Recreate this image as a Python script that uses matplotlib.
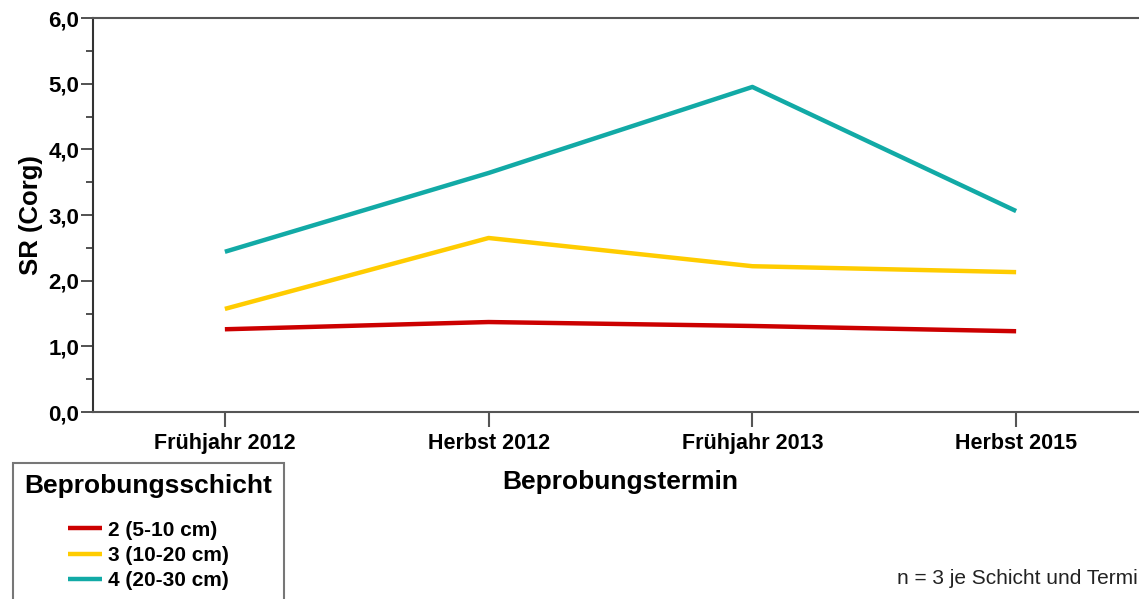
import matplotlib.pyplot as plt

plt.rcParams['font.family'] = ['Liberation Sans', 'DejaVu Sans']

termine = ['Frühjahr 2012', 'Herbst 2012', 'Frühjahr 2013', 'Herbst 2015']
schicht_2 = [1.26, 1.37, 1.31, 1.23]
schicht_3 = [1.57, 2.65, 2.22, 2.13]
schicht_4 = [2.44, 3.64, 4.95, 3.06]
labels = ['2 (5-10 cm)', '3 (10-20 cm)', '4 (20-30 cm)']
farben = ['#cc0000', '#ffcc00', '#12aaa6']

fig = plt.figure(figsize=(11.39, 5.99), dpi=100)
ax = fig.add_axes([93/1139, 187/599, 1055/1139, 394/599])

x = range(len(termine))
for werte, lab, col in zip([schicht_2, schicht_3, schicht_4], labels, farben):
    ax.plot(x, werte, color=col, lw=3.2, label=lab, solid_capstyle='butt')

ax.set_xlim(-0.5, 3.5)
ax.set_ylim(0, 6)
ax.set_xticks(list(x))
ax.set_xticklabels(termine, fontsize=15.5, fontweight='bold')
ax.set_yticks([0, 1, 2, 3, 4, 5, 6])
ax.set_yticklabels(['0,0', '1,0', '2,0', '3,0', '4,0', '5,0', '6,0'], fontsize=16, fontweight='bold')
ax.set_yticks([0.5, 1.5, 2.5, 3.5, 4.5, 5.5], minor=True)
ax.tick_params(axis='y', which='major', length=9, width=1.2, color='#333333', pad=1)
ax.tick_params(axis='y', which='minor', length=5, width=1.2, color='#333333')
ax.tick_params(axis='x', length=11, width=1.5, color='#555555', pad=4)
for s in ax.spines.values():
    s.set_color('#555555')
    s.set_linewidth(1.5)
ax.spines['left'].set_color('#333333')

ax.set_ylabel('SR (Corg)', fontsize=18.5, fontweight='bold', labelpad=4)
ax.set_xlabel('Beprobungstermin', fontsize=19, fontweight='bold', labelpad=12)

leg = ax.legend(title='Beprobungsschicht', loc='upper left',
                bbox_to_anchor=(13/1139, 1 - 463/599), bbox_transform=fig.transFigure,
                prop={'size': 15, 'weight': 'bold'},
                title_fontproperties={'size': 19, 'weight': 'bold'},
                handlelength=1.6, handletextpad=0.3, labelspacing=0.3,
                borderpad=0.55, borderaxespad=0, fancybox=False, framealpha=1)
leg.get_frame().set_edgecolor('#777777')
leg.get_frame().set_linewidth(1.5)
leg._legend_box.sep = 16

fig.text(897/1139, 1 - 578/599, 'n = 3 je Schicht und Termin', fontsize=15,
         color='#222222', va='center', ha='left')

fig.savefig('out.png', dpi=100)
